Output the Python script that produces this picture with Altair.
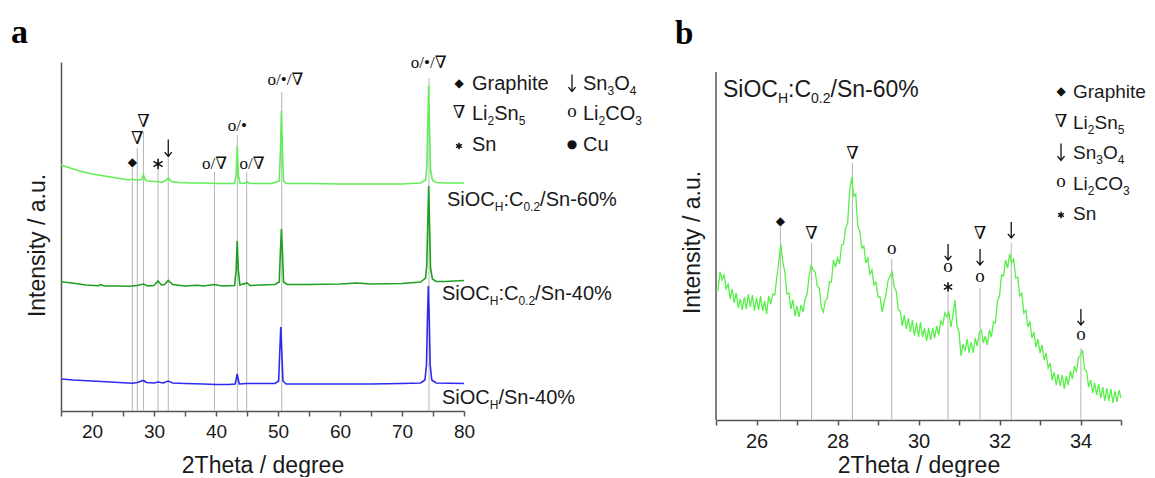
import re
import altair as alt
import pandas as pd

# ---------------- data ----------------
# Panel a: three XRD patterns (2Theta in degrees, intensity in arbitrary units)
A_SERIES = ["SiOCH:C0.2/Sn-60%", "SiOCH:C0.2/Sn-40%", "SiOCH/Sn-40%"]
A_COLORS = ["#62ee58", "#1f9f1f", "#2b2bef"]

A_X_60 = [15, 16, 17, 18, 19, 20, 21, 22, 23, 24, 25, 26, 26.5, 27, 27.5, 28.0, 28.3, 28.6, 29, 30,
          30.65, 31.2, 31.8, 32.3, 32.8, 34, 36, 38, 40, 42, 43.0, 43.25, 43.42, 43.6, 43.85, 44.5,
          45.0, 45.5, 47, 49, 50.2, 50.4, 50.55, 50.7, 50.9, 51.3, 55, 60, 65, 70, 73, 73.8, 74.0,
          74.15, 74.3, 74.45, 74.6, 74.9, 75.5, 77, 80]
A_Y_60 = [246, 244, 242, 240, 238.5, 237, 236, 235, 234, 233, 232, 231, 232, 231, 231, 231.5, 236, 231,
          230, 229.5, 229.5, 228.5, 230, 233, 229.5, 228.5, 228, 228, 227.5, 227.5, 227.5, 236, 265, 236,
          228, 227.5, 229, 227.5, 227.5, 227.5, 230, 261, 300, 261, 230, 227.5, 227.5, 227, 227, 227,
          228, 231, 243, 281, 325, 281, 241, 231, 228.5, 228, 228]

A_X_40C = [15, 17, 19, 21, 21.4, 22, 24, 26, 27.3, 28.3, 29, 30, 30.65, 31.2, 31.7, 32.3, 33, 35, 37,
           38, 39.75, 41, 43.0, 43.25, 43.42, 43.6, 43.85, 45.0, 45.5, 47, 49.5, 50.2, 50.4, 50.55,
           50.7, 50.9, 51.5, 55, 60, 62.7, 65, 70, 73, 73.8, 74.0, 74.15, 74.3, 74.45, 74.6, 74.9,
           75.5, 77, 80]
A_Y_40C = [129.3, 127.7, 126, 125.3, 126.5, 125, 125, 124.7, 125.5, 127, 125, 125.5, 130, 126, 126.5,
           130.5, 126.5, 125, 125.8, 125, 126.5, 125, 125.5, 141, 170, 141, 126, 128, 125.5, 126, 126.5,
           129, 161, 182, 161, 129, 126.5, 126.5, 127, 128, 127, 127.5, 129, 133, 146, 186, 225, 186,
           143, 132, 129.5, 129.5, 130.5]

A_X_40 = [15, 17, 20, 23, 25, 26.5, 27.3, 28.3, 28.8, 30, 30.65, 31.5, 32.3, 33, 35, 38, 40, 42, 43.1,
          43.3, 43.42, 43.55, 43.75, 45, 47, 49.5, 50.1, 50.3, 50.45, 50.6, 50.8, 51.3, 55, 60, 65, 70,
          73, 73.7, 73.95, 74.1, 74.25, 74.4, 74.55, 74.8, 75.5, 80]
A_Y_40 = [32, 31, 30, 29, 28.3, 27.7, 28.5, 30.5, 28.5, 28, 29, 28, 30, 28, 27.5, 27, 26.5, 26.5, 27,
          33, 37, 33, 27, 27.5, 27.5, 27.5, 30, 61, 84, 61, 30, 27, 27, 27, 27, 27.5, 28, 31, 46, 91,
          125, 91, 46, 31, 28, 27.5]

# reference lines (position, top) and peak markers of panel a
A_REF_X = [26.5, 27.3, 28.3, 30.65, 32.3, 39.75, 43.45, 44.95, 50.6, 74.35]
A_REF_TOP = [243, 263, 279, 241, 253, 239, 276, 239, 319, 333]
A_ANN_X = [26.5, 27.3, 28.3, 30.65, 32.3, 39.75, 43.45, 45.8, 51.2, 74.3]
A_ANN_Y = [249, 272, 289, 247, 263, 247, 285, 247, 331, 348]
A_ANN_T = ["◆", "∇", "∇", "*", "↓", "o/∇", "o/•", "o/∇", "o/•/∇", "o/•/∇"]

A_CURVE_LABELS = ["SiOC_{H}:C_{0.2}/Sn-60%", "SiOC_{H}:C_{0.2}/Sn-40%", "SiOC_{H}/Sn-40%"]
A_LEGEND_SYM = ["◆", "∇", "*", "↓", "o", "●"]
A_LEGEND_TXT = ["Graphite", "Li_{2}Sn_{5}", "Sn", "Sn_{3}O_{4}", "Li_{2}CO_{3}", "Cu"]

# Panel b: zoom of the 60% pattern, scan 25-35 deg with 0.05 deg step
B_START = 25.0
B_STEP = 0.05
B_Y = [130, 130, 148, 140, 145, 131, 136, 121, 131, 117,
       127, 112, 121, 110, 123, 111, 126, 113, 125, 109,
       122, 110, 124, 109, 119, 106, 124, 116, 126, 125,
       142, 158, 176, 158, 148, 126, 127, 111, 120, 104,
       114, 103, 115, 108, 121, 126, 144, 155, 150, 148,
       134, 132, 113, 108, 119, 122, 138, 138, 160, 153,
       162, 156, 175, 176, 192, 197, 229, 243, 224, 226,
       194, 189, 172, 174, 157, 162, 146, 150, 135, 138,
       123, 123, 108, 117, 126, 140, 144, 148, 133, 129,
       110, 109, 94, 105, 91, 102, 88, 100, 84, 97,
       83, 98, 83, 92, 79, 92, 80, 92, 82, 94,
       85, 99, 95, 107, 103, 108, 93, 105, 120, 94,
       88, 64, 76, 69, 81, 67, 78, 67, 82, 74,
       87, 90, 77, 84, 75, 90, 83, 98, 97, 119,
       124, 145, 144, 160, 152, 166, 157, 161, 142, 143,
       124, 127, 107, 110, 93, 98, 82, 88, 73, 81,
       67, 75, 60, 67, 52, 57, 40, 48, 35, 46,
       34, 45, 31, 44, 35, 49, 41, 54, 48, 62,
       65, 70, 51, 49, 33, 40, 27, 37, 25, 36,
       22, 33, 19, 32, 19, 31, 17, 29, 18, 30,
       22]
B_COLOR = "#58ef4a"

B_REF_X = [26.59, 27.36, 28.37, 29.34, 30.73, 31.52, 32.29, 34.01]
B_REF_TOP = [193, 177, 257, 161, 127, 132, 177, 72]
B_ANN_X = [26.59, 27.36, 28.37, 29.34, 30.73, 30.73, 30.73, 31.52, 31.52, 31.52, 32.29, 34.01, 34.01]
B_ANN_Y = [199, 186, 266, 170, 168, 152, 133, 186, 163, 142, 190, 103, 84]
B_ANN_T = ["◆", "∇", "∇", "o", "↓", "o", "*", "∇", "↓", "o", "↓", "↓", "o"]

B_TITLE = "SiOC_{H}:C_{0.2}/Sn-60%"
B_LEGEND_SYM = ["◆", "∇", "↓", "o", "*"]
B_LEGEND_TXT = ["Graphite", "Li_{2}Sn_{5}", "Sn_{3}O_{4}", "Li_{2}CO_{3}", "Sn"]

# ---------------- styling helpers ----------------
SANS = "Liberation Sans, Arial, Helvetica, sans-serif"
SERIF = "Liberation Serif, DejaVu Serif, Times New Roman, serif"
SYMF = "DejaVu Sans, Liberation Sans, sans-serif"
AXIS_COLOR = "#555555"
TEXT_COLOR = "#1a1a1a"
REF_COLOR = "#b5b5b5"
ARROW_PATH = "M0,-1L0,1M-0.42,0.48L0,1L0.42,0.48"
STAR_PATH = "M0,-1L0,1M-0.87,-0.5L0.87,0.5M-0.87,0.5L0.87,-0.5"

EM = {"S": 0.667, "i": 0.222, "O": 0.778, "C": 0.722, "H": 0.722, ":": 0.278, ".": 0.278,
      "/": 0.278, "n": 0.556, "-": 0.333, "%": 0.889, "G": 0.778, "r": 0.333, "a": 0.556,
      "p": 0.556, "h": 0.556, "t": 0.278, "e": 0.556, "L": 0.556, "u": 0.556, " ": 0.278}


def text_width(s, size):
    return sum(EM.get(c, 0.556) for c in s) * size


def one_row():
    return pd.DataFrame({"k": [0]})


def parse_rich(s):
    parts = []
    pos = 0
    for m in re.finditer(r"_\{([^}]*)\}", s):
        if m.start() > pos:
            parts.append((s[pos:m.start()], False))
        parts.append((m.group(1), True))
        pos = m.end()
    if pos < len(s):
        parts.append((s[pos:], False))
    return parts


def rich_label(s, x, y, size, sub_size, sub_dy):
    layers = []
    cx = x
    for txt, sub in parse_rich(s):
        fs = sub_size if sub else size
        layers.append(
            alt.Chart(one_row()).mark_text(
                text=txt, align="left", baseline="alphabetic", fontSize=fs, font=SANS,
                color=TEXT_COLOR, dy=sub_dy if sub else 0
            ).encode(x=alt.value(cx), y=alt.value(y))
        )
        cx += text_width(txt, fs)
    return layers


GLYPH = {"◆": (SYMF, 12, 0), "∇": (SERIF, 18, 0), "o": (SERIF, 19, -2), "●": (SYMF, 12, 0)}
PATHS = {"↓": (ARROW_PATH, 1.3), "*": (STAR_PATH, 1.6)}


def path_mark(g, data, size):
    path, sw = PATHS[g]
    return alt.Chart(data if data is not None else one_row()).mark_point(
        shape=path, size=size, filled=False, strokeWidth=sw, color="#111111", opacity=1
    )


def glyph_mark(g, x, y, psize=None):
    if g in PATHS:
        return path_mark(g, None, psize).encode(x=alt.value(x), y=alt.value(y))
    font, fs, gdy = GLYPH[g]
    return alt.Chart(one_row()).mark_text(
        text=g, align="center", baseline="middle", font=font, fontSize=fs,
        dy=gdy, color="#111111"
    ).encode(x=alt.value(x), y=alt.value(y))


def annotation_layers(xs, ys, ts, xscale, yscale, xaxis, yaxis, psizes):
    df = pd.DataFrame({"x": xs, "y": ys, "t": ts})
    layers = []
    for g in df["t"].unique():
        sub = df[df["t"] == g]
        enc = dict(
            x=alt.X("x:Q", scale=xscale, axis=xaxis),
            y=alt.Y("y:Q", scale=yscale, axis=yaxis),
        )
        if g in PATHS:
            layers.append(path_mark(g, sub, psizes[g]).encode(**enc))
            continue
        if g in GLYPH:
            font, fs, gdy = GLYPH[g]
        else:
            font, fs, gdy = SERIF, 17, 0
        layers.append(
            alt.Chart(sub).mark_text(
                align="center", baseline="middle", font=font, fontSize=fs, dy=gdy, color="#111111"
            ).encode(text="t:N", **enc)
        )
    return layers


def x_axis(values, every, label_size, title_pad):
    return alt.Axis(
        values=values, labelExpr=f"datum.value % {every} == 0 ? datum.label : ''",
        title="2Theta / degree", tickSize=5, tickWidth=1.5, tickColor=AXIS_COLOR,
        domainColor=AXIS_COLOR, domainWidth=1.5, labelFontSize=label_size, labelFont=SANS,
        labelColor=TEXT_COLOR, labelPadding=6, labelFlush=False, labelOverlap=False,
        titleFontSize=23, titleFont=SANS, titleFontWeight="normal", titleColor=TEXT_COLOR,
        titlePadding=title_pad, grid=False,
    )


def y_axis(show_domain, title_y):
    return alt.Axis(
        title="Intensity / a.u.", ticks=False, labels=False, grid=False, domain=show_domain,
        domainColor=AXIS_COLOR, domainWidth=1.5, titleFontSize=23, titleFont=SANS,
        titleFontWeight="normal", titleColor=TEXT_COLOR, titlePadding=12, titleY=title_y,
    )


# ---------------- panel a ----------------
W_A, H_A = 403, 349
xa = alt.Scale(domain=[15, 80], nice=False, zero=False)
ya = alt.Scale(domain=[0, 349], nice=False, zero=False)
ax_xa = x_axis(list(range(15, 81, 5)), 10, 19, 13)
ax_ya = y_axis(True, 183)

df_a = pd.concat([
    pd.DataFrame({"x": A_X_60, "y": A_Y_60, "series": A_SERIES[0]}),
    pd.DataFrame({"x": A_X_40C, "y": A_Y_40C, "series": A_SERIES[1]}),
    pd.DataFrame({"x": A_X_40, "y": A_Y_40, "series": A_SERIES[2]}),
])

layers_a = []
layers_a.append(
    alt.Chart(pd.DataFrame({"pos": A_REF_X, "top": A_REF_TOP})).mark_rule(
        color=REF_COLOR, strokeWidth=1
    ).encode(
        x=alt.X("pos:Q", scale=xa, axis=ax_xa),
        y=alt.Y("top:Q", scale=ya, axis=ax_ya),
        y2=alt.datum(0),
    )
)
layers_a.append(
    alt.Chart(df_a).mark_line(strokeWidth=1.6).encode(
        x=alt.X("x:Q", scale=xa, axis=ax_xa),
        y=alt.Y("y:Q", scale=ya, axis=ax_ya),
        color=alt.Color("series:N", scale=alt.Scale(domain=A_SERIES, range=A_COLORS), legend=None),
    )
)
layers_a += annotation_layers(A_ANN_X, A_ANN_Y, A_ANN_T, xa, ya, ax_xa, ax_ya,
                              {"↓": 289, "*": 110})

# curve labels to the right of the plot
for s, (px, py) in zip(A_CURVE_LABELS, [(386, 144), (381, 238), (381, 342)]):
    layers_a += rich_label(s, px, py, 20, 12, 5)

# legend (two columns, three rows)
rows_a = [21, 51, 82]
for i, (g, t) in enumerate(zip(A_LEGEND_SYM, A_LEGEND_TXT)):
    col, row = divmod(i, 3)
    sx = 398 if col == 0 else 511
    tx = 411 if col == 0 else 522
    cy = rows_a[row]
    psize = 289 if g == "↓" else 45
    layers_a.append(glyph_mark(g, sx, cy + (2 if g == "*" else 0), psize))
    layers_a += rich_label(t, tx, cy + 7, 20, 12, 5)

layers_a.append(
    alt.Chart(one_row()).mark_text(
        text="a", align="left", baseline="alphabetic", font=SERIF, fontSize=34,
        fontWeight="bold", color="#000000"
    ).encode(x=alt.value(-50), y=alt.value(-19))
)

panel_a = alt.layer(*layers_a).properties(width=W_A, height=H_A)

# ---------------- panel b ----------------
W_B, H_B = 405, 358
xb = alt.Scale(domain=[25, 35], nice=False, zero=False)
yb = alt.Scale(domain=[0, 358], nice=False, zero=False)
ax_xb = x_axis(list(range(25, 36)), 2, 20, 3)
ax_yb = y_axis(False, 180)

df_b = pd.DataFrame({"x": [round(B_START + B_STEP * i, 3) for i in range(len(B_Y))], "y": B_Y})

layers_b = []
layers_b.append(
    alt.Chart(one_row()).mark_rule(color=AXIS_COLOR, strokeWidth=1.5).encode(
        x=alt.value(0),
        y=alt.YDatum(348, type="quantitative", scale=yb, axis=ax_yb),
        y2=alt.datum(0),
    )
)
layers_b.append(
    alt.Chart(pd.DataFrame({"pos": B_REF_X, "top": B_REF_TOP})).mark_rule(
        color=REF_COLOR, strokeWidth=1
    ).encode(
        x=alt.X("pos:Q", scale=xb, axis=ax_xb),
        y=alt.Y("top:Q", scale=yb, axis=ax_yb),
        y2=alt.datum(0),
    )
)
layers_b.append(
    alt.Chart(df_b).mark_line(strokeWidth=1.3, color=B_COLOR).encode(
        x=alt.X("x:Q", scale=xb, axis=ax_xb),
        y=alt.Y("y:Q", scale=yb, axis=ax_yb),
    )
)
layers_b += annotation_layers(B_ANN_X, B_ANN_Y, B_ANN_T, xb, yb, ax_xb, ax_yb,
                              {"↓": 256, "*": 90})
layers_b += rich_label(B_TITLE, 7, 35, 23, 14, 6)

rows_b = [29, 59.5, 90, 120.5, 151]
for g, t, cy in zip(B_LEGEND_SYM, B_LEGEND_TXT, rows_b):
    psize = 289 if g == "↓" else 45
    layers_b.append(glyph_mark(g, 345, cy + (2 if g == "*" else 0), psize))
    layers_b += rich_label(t, 357, cy + 7, 19, 12, 5)

layers_b.append(
    alt.Chart(one_row()).mark_text(
        text="b", align="left", baseline="alphabetic", font=SERIF, fontSize=33,
        fontWeight="bold", color="#000000"
    ).encode(x=alt.value(-41), y=alt.value(-18))
)

panel_b = alt.layer(*layers_b).properties(width=W_B, height=H_B)

chart = alt.hconcat(panel_a, panel_b, spacing=33).properties(
    padding={"left": 3, "top": 8, "right": 0, "bottom": 0}
).configure_view(stroke=None)

chart.save("out.html", embed_options={"renderer": "svg", "actions": False})
